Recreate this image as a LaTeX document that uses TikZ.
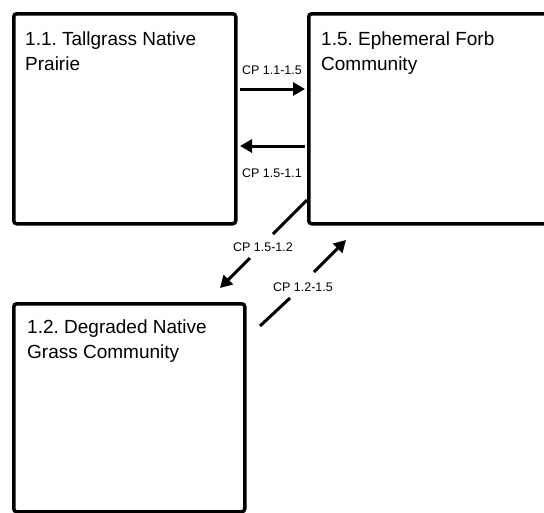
\documentclass[tikz,border=0pt]{standalone}
\usepackage{fontspec}
\setmainfont{Liberation Sans}
\usetikzlibrary{arrows.meta}
\frenchspacing
\begin{document}
\begin{tikzpicture}[x=1pt,y=-1pt,
  statebox/.style={draw, line width=3.5pt, rounded corners=3pt, anchor=north west, inner sep=0pt},
  title/.style={anchor=north west, align=left, inner sep=0pt, font=\fontsize{19}{25}\selectfont},
  cp/.style={font=\fontsize{12.5}{14}\selectfont, inner sep=1pt},
  ln/.style={line width=3pt},
  arr/.style={line width=3pt, -{Triangle[length=12pt,width=13pt]}}]
\useasboundingbox (0,0) rectangle (544,512);
\clip (0,0) rectangle (544,512);
% boxes
\node[statebox, minimum width=222pt, minimum height=210pt] (b11) at (12,12) {};
\node[statebox, minimum width=240pt, minimum height=210pt] (b15) at (307,12) {};
\node[statebox, minimum width=231pt, minimum height=208pt] (b12) at (12,302) {};
% titles
\node[title] (t11) at (25,32) {1.1. Tallgrass Native\\Prairie};
\node[title] (t15) at (321,32) {1.5. Ephemeral Forb\\Community};
\node[title] (t12) at (27,320) {1.2. Degraded Native\\Grass Community};
% connector end points
\coordinate (a1s) at (240,89);  \coordinate (a1e) at (305,89);
\coordinate (a2s) at (305,146); \coordinate (a2e) at (240,146);
\coordinate (a3s) at (307,200); \coordinate (a3m) at (273,234);
\coordinate (a3n) at (250,258); \coordinate (a3e) at (220,288);
\coordinate (a4s) at (260,326); \coordinate (a4m) at (290,298);
\coordinate (a4n) at (314,272); \coordinate (a4e) at (346,240);
% connectors
\draw[arr] (a1s) -- (a1e);
\node[cp] (l1) at (272,70) {CP 1.1-1.5};
\draw[arr] (a2s) -- (a2e);
\node[cp] (l2) at (272,173) {CP 1.5-1.1};
\draw[ln] (a3s) -- (a3m);
\draw[arr] (a3n) -- (a3e);
\node[cp] (l3) at (263,247) {CP 1.5-1.2};
\draw[ln] (a4s) -- (a4m);
\draw[arr] (a4n) -- (a4e);
\node[cp] (l4) at (303,287) {CP 1.2-1.5};
\end{tikzpicture}
\end{document}
